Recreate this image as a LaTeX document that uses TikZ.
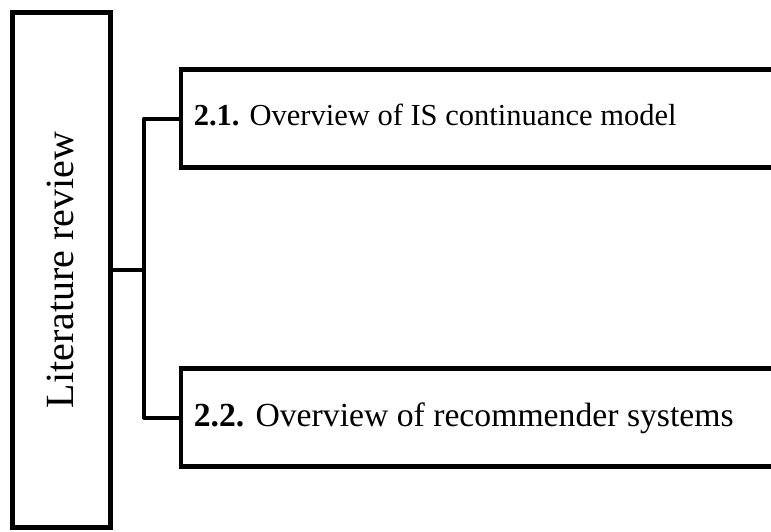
\documentclass[tikz,border=0pt]{standalone}
\usepackage{fontspec}
\setmainfont{Liberation Serif}
\usepackage{tikz}

\begin{document}
\begin{tikzpicture}[x=1pt,y=-1pt,
    secbox/.style={draw,line width=4.5pt,rectangle,inner xsep=13pt,inner ysep=0pt,
      minimum height=98pt,text width=615pt,align=flush left,anchor=west},
    arm/.style={line width=4pt}]
      \useasboundingbox (0,0) rectangle (771,531);
      \clip (0,0) rectangle (771,531);

      \node [draw,line width=4.5pt,rectangle,rotate=90,minimum width=515pt,minimum height=98pt,
        inner sep=0pt,text height=29pt,text depth=6pt,font=\fontsize{40}{48}\selectfont]
        (lit) at (61.5,270) {Literature review};
      \node [secbox,text height=20pt,text depth=7pt,font=\fontsize{30.5}{36}\selectfont]
        (sec1) at (178.5,118.5) {\textbf{2.1.} Overview of IS continuance model};
      \node [secbox,text height=25pt,text depth=6.5pt,font=\fontsize{33.7}{40}\selectfont]
        (sec2) at (178.5,417.5) {\textbf{2.2.} Overview of recommender systems};

      \coordinate (hub) at (144,270);
      \draw[arm] (lit.south) -- (hub);
      \draw[arm,line join=round] (hub) |- (sec1.west);
      \draw[arm,line join=round] (hub) |- (sec2.west);
    \end{tikzpicture}
\end{document}
